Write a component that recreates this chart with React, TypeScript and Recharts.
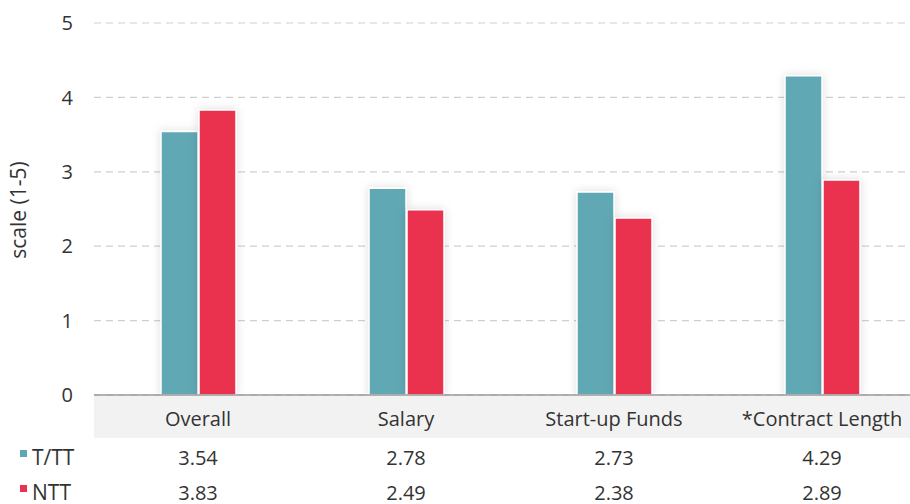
import React from "react";
import { BarChart, Bar, XAxis, YAxis, CartesianGrid } from "recharts";

const categories = ["Overall", "Salary", "Start-up Funds", "*Contract Length"];
const ttValues = [3.54, 2.78, 2.73, 4.29];
const nttValues = [3.83, 2.49, 2.38, 2.89];
const yTicks = [0, 1, 2, 3, 4, 5];

const TEAL = "#5ea8b4";
const RED = "#ea3350";
const FONT = "'Open Sans', sans-serif";
const TEXT = "#333";

const data = categories.map((name, i) => ({ name, tt: ttValues[i], ntt: nttValues[i] }));

const BAND = 208;

const CategoryTick = (props: any) => {
  const { x, y, payload } = props;
  return (
    <g>
      <rect x={x - BAND / 2} y={y + 1} width={BAND} height={42} fill="#f2f2f2" />
      <text x={x} y={y + 23} textAnchor="middle" dominantBaseline="central" fontSize={20} fill={TEXT} fontFamily={FONT}>
        {payload.value}
      </text>
    </g>
  );
};

const rowTick = (values: number[], label: string, color: string, dy: number) => (props: any) => {
  const { x, y, index } = props;
  return (
    <g>
      {index === 0 && (
        <g>
          <rect x={20} y={y + dy - 7} width={7} height={7} fill={color} />
          <text x={32} y={y + dy} dominantBaseline="central" fontSize={21} fill={TEXT} fontFamily={FONT}>
            {label}
          </text>
        </g>
      )}
      <text x={x} y={y + dy} textAnchor="middle" dominantBaseline="central" fontSize={20} fill={TEXT} fontFamily={FONT}>
        {values[index].toFixed(2)}
      </text>
    </g>
  );
};

const YLabel = () => (
  <text x={18} y={210} transform="rotate(-90 18 210)" textAnchor="middle" dominantBaseline="central" fontSize={21} fill={TEXT} fontFamily={FONT}>
    scale (1-5)
  </text>
);

export default function App() {
  return (
    <div style={{ position: "absolute", left: 0, top: 0, width: 910, height: 504, overflow: "hidden", background: "#fff" }}>
      <svg width={0} height={0} style={{ position: "absolute" }}>
        <defs>
          <filter id="barShadow" x="-40%" y="-20%" width="180%" height="140%">
            <feDropShadow dx={0} dy={0} stdDeviation={5} floodColor="#000" floodOpacity={0.13} />
          </filter>
        </defs>
      </svg>
      <BarChart
        width={930}
        height={504}
        data={data}
        margin={{ top: 23, right: 4, bottom: 0, left: 14 }}
        barSize={37}
        barGap={1}
        barCategoryGap={67}
      >
        <CartesianGrid vertical={false} stroke="#cfcfcf" strokeDasharray="7 5" strokeWidth={1.2} />
        <YAxis
          domain={[0, 5]}
          ticks={yTicks}
          width={80}
          axisLine={false}
          tickLine={false}
          tickSize={0}
          tickMargin={21}
          tick={{ fontSize: 20, fill: TEXT, fontFamily: FONT }}
          label={<YLabel />}
        />
        <XAxis
          dataKey="name"
          xAxisId={0}
          height={43}
          tickSize={0}
          tickMargin={0}
          axisLine={{ stroke: "#999", strokeWidth: 1.5 }}
          tickLine={false}
          interval={0}
          tick={<CategoryTick />}
        />
        <XAxis
          dataKey="name"
          xAxisId="row1"
          height={35}
          tickSize={0}
          tickMargin={0}
          axisLine={false}
          tickLine={false}
          interval={0}
          tick={rowTick(ttValues, "T/TT", TEAL, 19)}
        />
        <XAxis
          dataKey="name"
          xAxisId="row2"
          height={31}
          tickSize={0}
          tickMargin={0}
          axisLine={false}
          tickLine={false}
          interval={0}
          tick={rowTick(nttValues, "NTT", RED, 19)}
        />
        <Bar dataKey="tt" xAxisId={0} fill={TEAL} stroke="#fff" strokeWidth={1.5} isAnimationActive={false} style={{ filter: "url(#barShadow)" }} />
        <Bar dataKey="ntt" xAxisId={0} fill={RED} stroke="#fff" strokeWidth={1.5} isAnimationActive={false} style={{ filter: "url(#barShadow)" }} />
      </BarChart>
    </div>
  );
}
